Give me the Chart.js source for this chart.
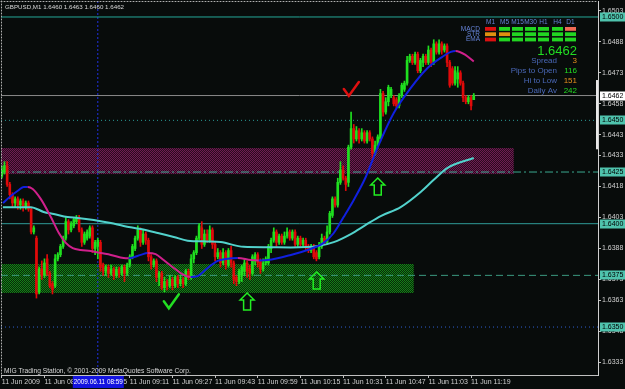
<!DOCTYPE html>
<html>
<head>
<meta charset="utf-8">
<script src="https://cdn.jsdelivr.net/npm/chart.js@4.4.1/dist/chart.umd.min.js"></script>
<style>
  html, body { margin: 0; padding: 0; background: #080c0b; }
  #wrap { width: 625px; height: 389px; }
</style>
</head>
<body>
<div id="wrap"><canvas id="chart" width="625" height="389"></canvas></div>
<script>
// ── Data: GBPUSD M1, prices in pips above 1.6000 ─────────────────────────────
const symbol = 'GBPUSD,M1';

const opens = [
  423,425,428,419,414,410,412,409,411,408, 410,407,396,393,367,378,375,383,376,371,
  370,383,385,389,393,401,397,399,401,403, 397,391,393,394,398,388,389,391,380,377,
  379,376,378,375,378,376,379,376,380,384, 388,393,397,391,395,392,384,380,382,374,
  376,369,372,370,373,370,374,371,373,371, 377,374,383,386,393,398,390,395,392,397,
  390,384,386,381,386,380,387,381,374,372, 375,377,381,378,376,382,385,382,378,381,
  381,388,392,396,391,394,391,394,396,393, 396,390,393,390,392,389,387,389,386,384,
  389,393,391,396,404,412,409,420,426,422, 420,437,446,441,445,441,444,440,444,441,
  434,438,441,463,454,459,462,461,460,457, 462,465,468,479,481,478,482,474,478,481,
  478,484,478,487,483,487,484,486,478,475, 468,470,473,468,461,459,461,460
];
const highs = [
  428,430,430,420,415,413,413,412,412,411, 411,408,399,394,379,382,383,385,377,372,
  385,386,390,394,403,402,401,403,404,404, 398,396,397,399,399,392,393,392,381,380,
  380,380,379,379,379,380,380,381,385,390, 394,399,398,397,396,393,385,383,383,377,
  377,374,373,375,374,375,375,375,374,378, 378,385,387,394,400,401,397,397,399,398,
  391,388,387,388,387,388,389,382,375,378, 380,383,382,380,385,386,386,383,383,384,
  390,393,398,397,395,395,396,398,397,397, 397,394,394,393,393,390,390,390,387,391,
  395,394,399,406,413,413,422,430,428,423, 438,454,448,447,446,446,445,445,445,442,
  440,443,465,464,461,467,466,462,461,463, 468,469,481,482,482,483,483,480,482,482,
  486,485,489,488,489,488,487,487,479,476, 476,476,474,469,462,462,462,463
];
const lows = [
  422,424,418,412,408,408,407,407,406,407, 406,395,395,364,366,373,374,375,369,366,
  369,382,384,388,392,395,396,398,400,396, 389,390,392,393,386,385,383,377,375,375,
  374,375,373,374,374,375,372,375,379,383, 387,392,389,390,390,382,378,379,372,370,
  368,367,368,369,368,369,369,370,369,370, 373,373,381,385,392,388,389,391,391,388,
  382,383,379,380,378,379,379,371,370,371, 372,375,374,373,375,380,379,376,377,380,
  380,386,391,389,390,390,390,393,392,392, 389,389,389,389,387,386,386,383,382,383,
  388,390,390,395,403,408,408,419,421,416, 418,436,439,440,439,440,439,439,440,431,
  433,437,440,452,453,457,461,457,456,456, 461,464,467,478,477,477,473,473,476,477,
  477,476,477,482,482,482,483,476,466,467, 467,466,467,459,458,458,455,460
];
const closes = [
  426,428,419,414,410,412,409,411,408,410, 407,396,398,366,378,375,381,376,370,368,
  383,385,389,393,401,397,400,402,403,397, 391,395,396,398,388,391,392,379,377,379,
  376,378,375,378,376,379,376,380,384,389, 393,397,391,395,392,384,380,382,374,376,
  369,372,370,373,370,374,371,373,371,377, 374,383,386,393,399,390,395,392,397,390,
  384,386,381,386,380,387,381,373,372,377, 379,381,377,376,384,385,381,378,381,383,
  389,392,396,391,394,391,394,396,393,396, 390,393,390,392,389,387,389,384,383,389,
  393,391,396,405,412,409,420,426,422,419, 437,446,441,445,441,444,440,444,441,434,
  438,442,463,454,459,466,465,458,457,462, 467,468,479,481,478,482,474,479,481,478,
  484,478,487,483,487,484,486,478,467,468, 474,473,468,461,459,461,457,462
];

// time axis (bar index -> label)
const timeTickIdx  = [0, 16, 32, 48, 64, 80, 96, 112, 128, 144, 160, 176];
const timeTickText = ['11 Jun 2009', '11 Jun 08:39', '11 Jun 08:55', '11 Jun 09:11', '11 Jun 09:27',
                      '11 Jun 09:43', '11 Jun 09:59', '11 Jun 10:15', '11 Jun 10:31', '11 Jun 10:47',
                      '11 Jun 11:03', '11 Jun 11:19'];
const cursorIdx  = 36;
const cursorText = '2009.06.11 08:59';

// price axis labels
const priceTicks = [503, 488, 473, 458, 443, 433, 418, 403, 388, 373, 363, 348, 333];

// fast MA (blue rising / magenta falling), slow MA (cyan)
const maFastIdx = [0.4,3.4,6.4,8.2,9.7,11.6,14.6,18.4,21.4,24,26.6,29.6,33.4,37.1,40.9,45.7,47.6,52.1,54.7,57.7,
                   60.7,64.5,68.2,70.9,73.5,77.2,81,84,88.5,93.4,96.4,99.7,108.4,114.7,120.7,124.5,128.2,132,
                   136.5,141,147,153.4,159.7,164.6,168.4,170.2,174,177];
const maFastVal = [410,413.4,416.3,417.8,417.8,416.8,412,403.2,395.5,390.7,388.2,387.3,386.8,385.8,384.9,383.4,383.3,
                   384.9,385.8,385.3,382.4,378.6,375.2,374.2,374.7,378.6,382,382.9,383.4,382.4,382.2,382.4,384.9,
                   387.3,390.7,395.5,403.2,411.5,422.6,437.1,453.6,465.7,475.3,480.2,483.1,483.6,481.6,478.5];
const maSlowIdx = [0.4,10.9,15.7,19.5,24.7,28.5,34.5,40.9,45.7,52.1,58.5,64.5,69.7,77.2,82.1,90.7,99.7,108.4,
                   118.5,124.5,130.9,136.5,142.1,149.6,157.1,161.9,167.2,177];
const maSlowVal = [408,408,405.7,404.7,403.2,402.8,401.8,400.3,398.9,397.4,395.5,393.6,391.8,391.4,391.1,388.8,
                   388.6,388.5,389.2,391.1,395,399.4,403.7,408,415.3,421.1,427,431.8];

// horizontal levels and zones
const levelPrices = [500, 462, 450, 425, 400, 375, 350];
const zoneLow  = [424, 366.5];
const zoneHigh = [436.6, 380.5];
const zoneEnd  = [192, 154.5];

// hand-drawn marks: arrows (bar index, price at tip), ticks (bar index, price at centre)
const arrowIdx = [141, 118.1, 92];
const arrowP   = [422.1, 376.6, 366.5];
const checkIdx = [63.4, 130.9];
const checkP   = [362, 464.7];

// info panel
const panelFrames = ['M1', 'M5', 'M15', 'M30', 'H1', 'H4', 'D1'];
const panelRows   = ['MACD', 'STR', 'EMA'];
const panelState  = [
  ['dn', 'up', 'up', 'up', 'up', 'up', 'wk'],
  ['nt', 'nt', 'up', 'up', 'up', 'up', 'up'],
  ['dn', 'up', 'up', 'up', 'up', 'up', 'up'],
];
const statLabels = ['Spread', 'Pips to Open', 'Hi to Low', 'Daily Av'];
const statValues = [3, 116, 151, 242];
const statKinds  = ['warn', 'good', 'warn', 'good'];

// ── Helpers ──────────────────────────────────────────────────────────────────
const X_MIN = -0.3, X_MAX = 223.6;
const Y_MIN = 326.8, Y_MAX = 507.74;
const fmt = v => ((16000 + v) / 10000).toFixed(4);
const UP = '#1fe01f', DN = '#e00a0a';
const FONT = '"Liberation Sans", Arial, sans-serif';

const bodies = opens.map((o, i) => {
  const c = closes[i];
  return { x: i, y: o === c ? [o - 0.3, o + 0.3] : [o, c] };
});
const wicks = opens.map((o, i) => ({ x: i, y: [lows[i], highs[i]] }));
const candleColor = opens.map((o, i) => closes[i] >= o ? UP : DN);

function levelLine(p, color, dash) {
  return {
    type: 'line', order: 2,
    data: [{ x: X_MIN, y: p }, { x: X_MAX, y: p }],
    borderColor: color, borderWidth: 1, borderDash: dash,
    pointRadius: 0,
  };
}
const levelStyles = [
  ['#25a898', []], ['#8a8a8a', []], ['#2a9a96', [1, 3]], ['#3aa890', [8, 3, 2, 3]],
  ['#2f9c98', []], ['#3a9a80', [7, 4]], ['#2d5fd0', [1, 3]],
];

function dotPattern(ctx, a, b) {
  const c = document.createElement('canvas');
  c.width = 2; c.height = 2;
  const g = c.getContext('2d');
  g.fillStyle = b; g.fillRect(0, 0, 2, 2);
  g.fillStyle = a; g.fillRect(0, 0, 1, 1); g.fillRect(1, 1, 1, 1);
  return ctx.createPattern(c, 'repeat');
}

// ── Plugin: background, zones, annotations, panel ────────────────────────────
const mtPlugin = {
  id: 'mt4',
  beforeDraw(chart) {
    const ctx = chart.ctx;
    ctx.save();
    ctx.fillStyle = '#080c0b';
    ctx.fillRect(0, 0, chart.width, chart.height);
    ctx.restore();
  },
  beforeDatasetsDraw(chart) {
    const { ctx, scales: { x, y }, chartArea: a } = chart;
    const fills = [dotPattern(ctx, '#6e1d52', '#2a0a1f'), dotPattern(ctx, '#168018', '#062a08')];
    ctx.save();
    zoneLow.forEach((lo, k) => {
      const top = y.getPixelForValue(zoneHigh[k]);
      const bot = y.getPixelForValue(lo);
      const right = x.getPixelForValue(zoneEnd[k]);
      ctx.fillStyle = fills[k];
      ctx.fillRect(a.left, top, right - a.left, bot - top);
    });
    ctx.restore();
  },
  afterDatasetsDraw(chart) {
    const { ctx, scales: { x, y }, chartArea: a } = chart;
    ctx.save();
    // arrows
    ctx.strokeStyle = '#22ee22';
    ctx.lineWidth = 1.5;
    arrowIdx.forEach((i, k) => {
      const cx = x.getPixelForValue(i), t = y.getPixelForValue(arrowP[k]);
      ctx.beginPath();
      ctx.moveTo(cx, t);
      ctx.lineTo(cx + 7, t + 7); ctx.lineTo(cx + 3.5, t + 7); ctx.lineTo(cx + 3.5, t + 17);
      ctx.lineTo(cx - 3.5, t + 17); ctx.lineTo(cx - 3.5, t + 7); ctx.lineTo(cx - 7, t + 7);
      ctx.closePath();
      ctx.stroke();
    });
    // ticks (check marks)
    ctx.lineWidth = 2.5;
    ctx.lineCap = 'round';
    ['#22dd22', '#e01010'].forEach((col, k) => {
      const cx = x.getPixelForValue(checkIdx[k]), cy = y.getPixelForValue(checkP[k]);
      ctx.strokeStyle = col;
      ctx.beginPath();
      ctx.moveTo(cx - 7, cy - 1); ctx.lineTo(cx - 2, cy + 6); ctx.lineTo(cx + 8, cy - 8);
      ctx.stroke();
    });

    // left/top dotted frame
    ctx.strokeStyle = '#b0b0b0';
    ctx.lineWidth = 1;
    ctx.setLineDash([1, 2]);
    ctx.beginPath();
    ctx.moveTo(a.left + 0.5, a.top); ctx.lineTo(a.left + 0.5, a.bottom);
    ctx.moveTo(a.left, a.top + 0.5); ctx.lineTo(a.right, a.top + 0.5);
    ctx.stroke();
    ctx.setLineDash([]);

    // title and copyright
    const n = closes.length - 1;
    ctx.font = `6.2px ${FONT}`;
    ctx.fillStyle = '#d8d8d8';
    ctx.textBaseline = 'middle';
    ctx.textAlign = 'left';
    ctx.fillText(`${symbol} ${fmt(opens[n])} ${fmt(highs[n])} ${fmt(lows[n])} ${fmt(closes[n])}`, 5, 7);
    ctx.font = `6.7px ${FONT}`;
    ctx.fillText('MIG Trading Station, \u00a9 2001-2009 MetaQuotes Software Corp.', 4, 371);

    // info panel
    const colX = [485, 499, 512, 525, 538, 552, 565];
    ctx.font = `6.5px ${FONT}`;
    ctx.fillStyle = '#6684d8';
    ctx.textAlign = 'center';
    panelFrames.forEach((f, k) => ctx.fillText(f, colX[k] + 5.5, 22));
    ctx.textAlign = 'right';
    const stateColor = { up: '#22d622', dn: '#dd1010', nt: '#e09010', wk: '#f06a55' };
    panelRows.forEach((r, j) => {
      const ry = 27 + j * 5.3;
      ctx.fillStyle = '#6684d8';
      ctx.fillText(r, 480, ry + 2);
      panelState[j].forEach((s, k) => {
        ctx.fillStyle = stateColor[s];
        ctx.fillRect(colX[k], ry, 11, 3.8);
      });
    });
    ctx.font = `13px ${FONT}`;
    ctx.fillStyle = '#22dd22';
    ctx.textBaseline = 'alphabetic';
    ctx.fillText(fmt(closes[n]), 577, 55);
    ctx.font = `8px ${FONT}`;
    ctx.textBaseline = 'middle';
    statLabels.forEach((l, k) => {
      const ly = 60.5 + k * 10;
      ctx.fillStyle = '#4a68b8';
      ctx.fillText(l, 557, ly);
      ctx.fillStyle = statKinds[k] === 'warn' ? '#e8901e' : '#22dd22';
      ctx.fillText(String(statValues[k]), 577, ly);
    });
    ctx.restore();
  },
  afterDraw(chart) {
    const { ctx, scales: { x, y }, chartArea: a } = chart;
    ctx.save();
    ctx.font = `7px ${FONT}`;
    ctx.textBaseline = 'middle';
    ctx.textAlign = 'left';
    // boxed level labels on price axis
    levelPrices.forEach((p, k) => {
      const py = Math.round(y.getPixelForValue(p));
      ctx.fillStyle = k === 1 ? '#ffffff' : '#4fc3ad';
      ctx.fillRect(a.right + 2, py - 4.5, 25, 9);
      ctx.fillStyle = '#000000';
      ctx.fillText(fmt(p), a.right + 4, py);
    });
    // range marker on the right edge
    const t = y.getPixelForValue(469.5), b = y.getPixelForValue(436);
    ctx.fillStyle = '#e8e8e8';
    ctx.fillRect(a.right - 2, t, 2, b - t);
    // cursor time box
    const cx = x.getPixelForValue(cursorIdx);
    ctx.fillStyle = '#1414e0';
    ctx.fillRect(cx - 25, a.bottom + 1, 51, 12);
    ctx.fillStyle = '#ffffff';
    ctx.font = `6.4px ${FONT}`;
    ctx.textAlign = 'center';
    ctx.fillText(cursorText, cx + 0.5, a.bottom + 7.5);
    ctx.restore();
  },
};

// ── Chart ────────────────────────────────────────────────────────────────────
const canvas = document.getElementById('chart');
new Chart(canvas, {
  data: {
    datasets: [
      {
        type: 'line', order: 0,
        data: maFastIdx.map((v, k) => ({ x: v, y: maFastVal[k] })),
        borderWidth: 2, pointRadius: 0, cubicInterpolationMode: 'monotone',
        borderColor: '#1020e0',
        segment: { borderColor: c => c.p1.parsed.y < c.p0.parsed.y ? '#d0208c' : '#1020e0' },
      },
      {
        type: 'line', order: 0,
        data: maSlowIdx.map((v, k) => ({ x: v, y: maSlowVal[k] })),
        borderWidth: 2, pointRadius: 0, cubicInterpolationMode: 'monotone',
        borderColor: '#52d2cc',
      },
      {
        type: 'bar', order: 1, grouped: false,
        data: bodies, backgroundColor: candleColor, barThickness: 2,
      },
      {
        type: 'bar', order: 1, grouped: false,
        data: wicks, backgroundColor: candleColor, barThickness: 1,
      },
      ...levelPrices.map((p, k) => levelLine(p, levelStyles[k][0], levelStyles[k][1])),
      {
        type: 'line', order: 2,
        data: [{ x: cursorIdx, y: Y_MIN }, { x: cursorIdx, y: Y_MAX }],
        borderColor: '#2030e0', borderWidth: 1, borderDash: [2, 2], pointRadius: 0,
      },
    ],
  },
  options: {
    responsive: false,
    animation: false,
    devicePixelRatio: 1,
    layout: { padding: { left: 1, top: 1, right: 0, bottom: 0 } },
    plugins: { legend: { display: false }, tooltip: { enabled: false } },
    scales: {
      x: {
        type: 'linear', position: 'bottom', min: X_MIN, max: X_MAX, offset: false,
        afterBuildTicks: s => { s.ticks = timeTickIdx.map(v => ({ value: v })); },
        afterFit: s => { s.height = 14; s.paddingLeft = 0; s.paddingRight = 0; },
        ticks: {
          autoSkip: false, maxRotation: 0, align: 'start', padding: 0,
          color: '#d0d0d0', font: { family: 'Liberation Sans', size: 7 },
          callback: v => timeTickText[timeTickIdx.indexOf(v)] ?? '',
        },
        grid: { offset: false, drawOnChartArea: false, drawTicks: true, tickLength: 3, color: '#c0c0c0' },
        border: { display: true, color: '#c0c0c0', dash: [2, 1] },
      },
      y: {
        type: 'linear', position: 'right', min: Y_MIN, max: Y_MAX,
        afterBuildTicks: s => { s.ticks = priceTicks.map(v => ({ value: v })); },
        afterFit: s => { s.width = 27; s.paddingTop = 0; s.paddingBottom = 0; },
        ticks: {
          autoSkip: false, padding: 1,
          color: '#d0d0d0', font: { family: 'Liberation Sans', size: 7 },
          callback: v => fmt(v),
        },
        grid: { drawOnChartArea: false, drawTicks: true, tickLength: 3, color: '#c0c0c0' },
        border: { display: true, color: '#d0d0d0' },
      },
    },
  },
  plugins: [mtPlugin],
});
</script>
</body>
</html>
